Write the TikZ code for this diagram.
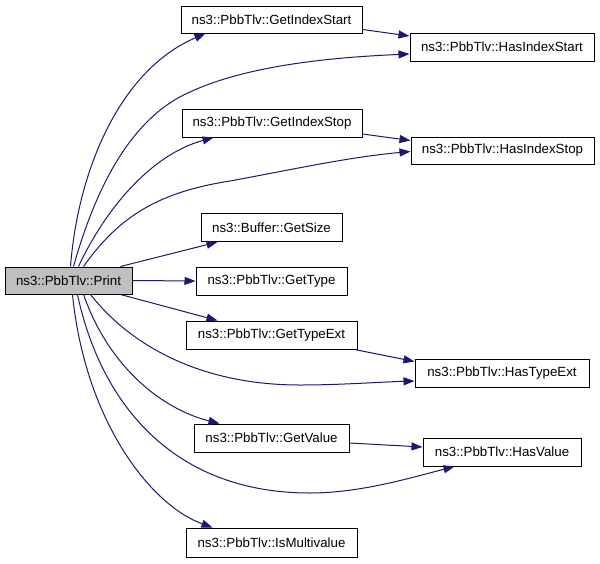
\documentclass[tikz,border=0pt]{standalone}
\usepackage{fontspec}
\setmainfont{Liberation Sans}
\usetikzlibrary{arrows.meta}
\definecolor{edgeblue}{RGB}{25,25,112}
\definecolor{printgray}{RGB}{191,191,191}
\tikzset{
  fn/.style={draw=black, line width=1pt, fill=white, inner sep=0pt, minimum height=27pt,
    font=\fontsize{13.3}{16}\selectfont},
  e/.style={draw=edgeblue, line width=1pt, -{Triangle[length=11pt,width=8pt]}, fill=none},
}
\begin{document}
\begin{tikzpicture}[x=1pt,y=-1pt]
\useasboundingbox (0,0) rectangle (600,563);
\node[fn, fill=printgray, minimum width=127pt] (print) at (68.5,280.5) {ns3::PbbTlv::Print};
\node[fn, minimum width=181pt] (gis) at (271.5,19.5) {ns3::PbbTlv::GetIndexStart};
\node[fn, minimum width=184pt, minimum height=28pt] (his) at (502,47) {ns3::PbbTlv::HasIndexStart};
\node[fn, minimum width=180pt, minimum height=28pt] (gist) at (272,123) {ns3::PbbTlv::GetIndexStop};
\node[fn, minimum width=183pt] (hist) at (502.5,150.5) {ns3::PbbTlv::HasIndexStop};
\node[fn, minimum width=141pt, minimum height=28pt] (size) at (271.5,227.5) {ns3::Buffer::GetSize};
\node[fn, minimum width=151pt, minimum height=28pt] (gt) at (271.5,281) {ns3::PbbTlv::GetType};
\node[fn, minimum width=171pt, minimum height=28pt] (gte) at (271.5,335) {ns3::PbbTlv::GetTypeExt};
\node[fn, minimum width=174pt, minimum height=28pt] (hte) at (502,373) {ns3::PbbTlv::HasTypeExt};
\node[fn, minimum width=155pt, minimum height=28pt] (gv) at (271.5,438) {ns3::PbbTlv::GetValue};
\node[fn, minimum width=158pt, minimum height=28pt] (hv) at (502,452) {ns3::PbbTlv::HasValue};
\node[fn, minimum width=171pt, minimum height=29pt] (im) at (271.5,542.5) {ns3::PbbTlv::IsMultivalue};

% edges from Print
\draw[e] ([xshift=2pt]print.north) .. controls (78,170) and (120,70) .. ([xshift=25pt]gis.south west);
\draw[e] ([xshift=5pt]print.north) .. controls (95,190) and (130,118) .. (190,92)
  .. controls (250,64) and (340,57) .. ([yshift=-7pt]his.west);
\draw[e] ([xshift=10pt]print.north) .. controls (105,210) and (150,155) .. ([xshift=32pt]gist.south west);
\draw[e] ([xshift=15pt]print.north) .. controls (120,215) and (160,192) .. (230,181)
  .. controls (300,168) and (350,157) .. ([yshift=-1pt]hist.west);
\draw[e] ([xshift=-12pt]print.north east) -- ([xshift=17pt]size.south west);
\draw[e] (print.east) -- (gt.west);
\draw[e] ([xshift=-12pt]print.south east) -- ([xshift=32pt]gte.north west);
\draw[e] ([xshift=22pt]print.south) .. controls (130,345) and (200,385) .. (300,385)
  .. controls (340,385) and (380,382) .. ([yshift=-8pt]hte.west);
\draw[e] ([xshift=15pt]print.south) .. controls (110,370) and (165,410) .. ([xshift=26pt]gv.north west);
\draw[e] ([xshift=9pt]print.south) .. controls (100,400) and (170,493) .. (310,493)
  .. controls (360,493) and (410,478) .. ([xshift=32pt]hv.south west);
\draw[e] ([xshift=4pt]print.south) .. controls (85,420) and (150,505) .. ([xshift=27pt]im.north west);

% second-level edges
\draw[e] ([yshift=-10pt]gis.east) -- ([yshift=11pt]his.west);
\draw[e] ([yshift=-11pt]gist.east) -- ([yshift=10pt]hist.west);
\draw[e] ([xshift=-3pt]gte.south east) -- ([yshift=-3pt]hte.north west);
\draw[e] ([yshift=-5pt]gv.east) -- ([yshift=5pt]hv.west);
\end{tikzpicture}
\end{document}
